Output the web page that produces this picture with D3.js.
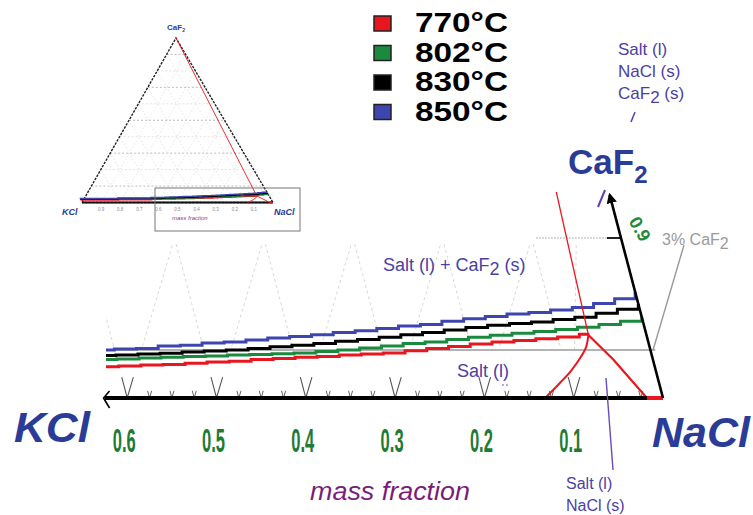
<!DOCTYPE html>
<html><head><meta charset="utf-8">
<script src="https://cdn.jsdelivr.net/npm/d3@7"></script>
<style>body{margin:0;background:#fff}svg{display:block}</style>
</head><body>
<svg id="c" width="753" height="515"></svg>
<script>
// ---------------- DATA ----------------
// KCl mass fraction at each step of the isotherms (1.0 .. 0.8 only seen in the overview triangle)
const kclSteps = [1.0,0.8,0.625,0.6,0.575,0.55,0.525,0.5,0.475,0.45,0.425,0.4,0.375,0.35,0.325,0.3,0.275,0.25,0.225,0.2,0.175,0.15,0.125,0.1,0.075,0.05,0.025,0.0];
// CaF2 solubility (mass %) along the isotherms
const caf2_850 = [2.4,2.7,3.0,3.06,3.1,3.25,3.3,3.44,3.5,3.62,3.75,3.85,3.95,4.1,4.2,4.35,4.5,4.6,4.8,4.95,5.1,5.25,5.35,5.5,5.65,5.9,6.2,6.63];
const caf2_830 = [2.1,2.4,2.65,2.69,2.75,2.8,2.88,2.94,3.0,3.1,3.2,3.3,3.4,3.55,3.65,3.8,3.95,4.1,4.25,4.4,4.55,4.65,4.75,4.9,5.05,5.3,5.55,5.88];
const caf2_802 = [1.9,2.1,2.4,2.44,2.5,2.55,2.6,2.63,2.68,2.72,2.76,2.81,2.9,3.0,3.12,3.25,3.4,3.5,3.65,3.8,3.92,4.05,4.15,4.28,4.42,4.6,4.8,5.06];
const kcl770   = [1.0,0.8,0.625,0.6,0.575,0.55,0.525,0.5,0.475,0.45,0.425,0.4,0.375,0.35,0.325,0.3,0.275,0.25,0.225,0.2,0.175,0.15,0.125,0.1,0.075,0.065];
const caf2_770 = [1.5,1.7,1.95,2.0,2.06,2.1,2.17,2.25,2.3,2.4,2.47,2.55,2.6,2.68,2.75,2.82,2.95,3.1,3.22,3.38,3.5,3.6,3.7,3.82,3.98,4.06];
// 770 °C NaCl liquidus boundaries
const liqApexKCl  = [0.0, 0.065];           const liqApexCaF2  = [100, 3.94];
const liqLeftKCl  = [0.065,0.071,0.080,0.095,0.111,0.132]; const liqLeftCaF2 = [3.94,3.2,2.56,1.7,0.94,0];
const liqRightKCl = [0.065,0.044,0.018,0.0]; const liqRightCaF2 = [3.94,2.38,0,0];
// axis
const axisTicks  = [0.6,0.5,0.4,0.3,0.2,0.1];
const tickLabels = ["0.6","0.5","0.4","0.3","0.2","0.1"];
const insetTicks = [0.9,0.8,0.7,0.6,0.5,0.4,0.3,0.2,0.1];
const legendLabels = ["770°C","802°C","830°C","850°C"];
const legendColors = ["#e8161e","#1b8a3e","#000000","#3d45b0"];

// ---------------- SCALES / PROJECTIONS ----------------
const svg = d3.select("#c");
const xK   = d3.scaleLinear().domain([0,1]).range([663,-230]);   // KCl fraction along base
const yC   = d3.scaleLinear().domain([0,1]).range([398,-1202]);  // CaF2 fraction (stretched)
const sC   = d3.scaleLinear().domain([0,1]).range([0,420]);      // ternary skew
const P  = (k,c) => [xK(k) - sC(c), yC(c)];
const xKi = d3.scaleLinear().domain([0,1]).range([273,82]);
const yCi = d3.scaleLinear().domain([0,1]).range([202.5,38]);
const sCi = d3.scaleLinear().domain([0,1]).range([0,97]);
const Pi = (k,c) => [xKi(k) - sCi(c), yCi(c)];

const series = [
  {k:kcl770,  c:caf2_770, col:legendColors[0]},
  {k:kclSteps,c:caf2_802, col:legendColors[1]},
  {k:kclSteps,c:caf2_830, col:legendColors[2]},
  {k:kclSteps,c:caf2_850, col:legendColors[3]}
].map(s => ({col:s.col, pts:s.k.map((k,i)=>[k, s.c[i]/100])}));
const zip = (a,b) => a.map((v,i)=>[v,b[i]/100]);

const defs = svg.append("defs");
defs.append("clipPath").attr("id","mainClip").append("rect").attr("x",106).attr("y",0).attr("width",600).attr("height",515);
defs.append("clipPath").attr("id","gridClip").append("rect").attr("x",106).attr("y",243).attr("width",560).attr("height",106);
defs.append("clipPath").attr("id","apexClip").append("rect").attr("x",400).attr("y",192).attr("width",300).attr("height",300);
defs.append("marker").attr("id","arr").attr("viewBox","0 0 10 10").attr("refX",8).attr("refY",5)
  .attr("markerWidth",4).attr("markerHeight",4).attr("orient","auto")
  .append("path").attr("d","M0,0L10,5L0,10z").attr("fill","#000");

// ---------------- INSET TERNARY ----------------
const gi = svg.append("g");
const lineI = d3.line().x(d=>Pi(d[0],d[1])[0]).y(d=>Pi(d[0],d[1])[1]);
for (let v=0.1; v<0.95; v+=0.1) {
  gi.append("path").attr("d",lineI([[v,0],[0,v]])).attr("stroke","#dadada").attr("stroke-dasharray","1.5,2").attr("fill","none").attr("stroke-width",0.7);
  gi.append("path").attr("d",lineI([[1-v,0],[1-v,v]])).attr("stroke","#dadada").attr("stroke-dasharray","1.5,2").attr("fill","none").attr("stroke-width",0.7);
  gi.append("path").attr("d",lineI([[1-v,v],[0,v]])).attr("stroke", (Math.round(v*10)%2? "#ababab":"#dadada")).attr("stroke-dasharray","2,2").attr("fill","none").attr("stroke-width",0.8);
}
gi.append("path").attr("d",lineI([[1,0],[0,1],[0,0],[1,0]])).attr("stroke","#222").attr("stroke-width",1.4).attr("stroke-dasharray","2.5,1.2").attr("fill","none");
gi.append("path").attr("d",lineI([[0,0],[1,0]])).attr("stroke","#111").attr("stroke-width",2).attr("fill","none");
gi.append("path").attr("d",lineI(zip(liqApexKCl,liqApexCaF2))).attr("stroke","#e8161e").attr("stroke-width",0.9).attr("fill","none");
gi.append("path").attr("d",lineI(zip(liqRightKCl,liqRightCaF2))).attr("stroke","#e8161e").attr("stroke-width",0.9).attr("fill","none");
gi.append("path").attr("d",lineI(zip(liqLeftKCl,liqLeftCaF2))).attr("stroke","#e8161e").attr("stroke-width",0.9).attr("fill","none");
series.forEach(s=>{
  gi.append("path").attr("d",lineI.curve(d3.curveStepAfter)(s.pts)).attr("stroke",s.col).attr("stroke-width",1.4).attr("fill","none");
});
lineI.curve(d3.curveLinear);
gi.selectAll("text.it").data(insetTicks).join("text").attr("class","it")
  .attr("x",d=>xKi(d)).attr("y",211).attr("text-anchor","middle")
  .attr("font-family","Liberation Sans, Arial, sans-serif").attr("font-size",4.5).attr("fill","#888").text(d=>d.toFixed(1));
gi.append("rect").attr("x",155).attr("y",188).attr("width",145).attr("height",43).attr("fill","none").attr("stroke","#777").attr("stroke-width",1);
gi.append("text").attr("x",172).attr("y",220).attr("font-family","Liberation Sans, Arial, sans-serif").attr("font-style","italic")
  .attr("font-size",6).attr("fill","#8a3a8a").text("mass fraction");
const tI = gi.append("text").attr("x",Pi(0,1)[0]).attr("y",30).attr("text-anchor","middle")
  .attr("font-family","Liberation Sans, Arial, sans-serif").attr("font-weight","bold").attr("font-size",8).attr("fill","#2a3b98");
tI.append("tspan").text("CaF"); tI.append("tspan").attr("font-size",5).attr("dy",1.5).text("2");
gi.append("text").attr("x",62).attr("y",215).attr("font-family","Liberation Sans, Arial, sans-serif").attr("font-weight","bold").attr("font-style","italic")
  .attr("font-size",9).attr("fill","#2a3b98").text("KCl");
gi.append("text").attr("x",274).attr("y",215).attr("font-family","Liberation Sans, Arial, sans-serif").attr("font-weight","bold").attr("font-style","italic")
  .attr("font-size",9).attr("fill","#2a3b98").text("NaCl");

// ---------------- MAIN (zoomed) TERNARY ----------------
const g = svg.append("g");
const line = d3.line().x(d=>P(d[0],d[1])[0]).y(d=>P(d[0],d[1])[1]);

// dashed ternary grid
const grid = g.append("g").attr("clip-path","url(#gridClip)");
d3.range(1,10).map(i=>i/10).forEach(v=>{
  grid.append("path").attr("d",line([[v,0],[v,Math.min(0.2,1-v)]])).attr("stroke","#d2d2d2").attr("stroke-dasharray","3,3").attr("stroke-width",0.9).attr("fill","none");
  grid.append("path").attr("d",line([[1-v,0],[Math.max(0,1-v-0.2),Math.min(0.2,v)]])).attr("stroke","#d2d2d2").attr("stroke-dasharray","3,3").attr("stroke-width",0.9).attr("fill","none");
});
// 0.1 CaF2 grid line (dotted) + tick
g.append("path").attr("d",line([[0.095,0.1],[0.0157,0.1]])).attr("stroke","#999").attr("stroke-dasharray","1.5,1.5").attr("stroke-width",1.2).attr("fill","none");
g.append("path").attr("d",line([[0.0157,0.1],[0,0.1]])).attr("stroke","#222").attr("stroke-width",2).attr("fill","none");

// 3 % CaF2 line
g.append("path").attr("clip-path","url(#mainClip)").attr("d",line([[0.63,0.03],[-0.0055,0.03]])).attr("stroke","#9a9a9a").attr("stroke-width",1.6).attr("fill","none");

// V ticks on base
const minor = d3.range(1,25).map(i=>i*0.025);
minor.forEach(v=>{
  const major = Math.abs(v*10-Math.round(v*10))<1e-6;
  const h = major? 0.013 : 0.0045;
  g.append("path").attr("d",line([[v,h],[v,0],[v-h,h]]))
   .attr("stroke","#555").attr("stroke-width",major?1.1:0.9).attr("fill","none");
});

// isotherms
const sl = d3.line().x(d=>P(d[0],d[1])[0]).y(d=>P(d[0],d[1])[1]).curve(d3.curveStepAfter);
const sg = g.append("g").attr("clip-path","url(#mainClip)");
series.forEach(s=>{
  sg.append("path").attr("d",sl(s.pts)).attr("stroke",s.col).attr("stroke-width",3).attr("fill","none");
});

// 770 liquidus
g.append("path").attr("clip-path","url(#apexClip)").attr("d",line(zip(liqApexKCl,liqApexCaF2))).attr("stroke","#e8161e").attr("stroke-width",1.3).attr("fill","none");
g.append("path").attr("d",line.curve(d3.curveCatmullRom)(zip(liqLeftKCl,liqLeftCaF2))).attr("stroke","#e8161e").attr("stroke-width",2).attr("fill","none");
line.curve(d3.curveLinear);
g.append("path").attr("d",line(zip(liqRightKCl,liqRightCaF2).slice(0,3))).attr("stroke","#e8161e").attr("stroke-width",2.2).attr("fill","none");

// base axis
g.append("path").attr("d",line([[0.625,0],[0,0]])).attr("stroke","#000").attr("stroke-width",4).attr("fill","none");
g.append("path").attr("d",line(zip(liqRightKCl,liqRightCaF2).slice(2))).attr("stroke","#e8161e").attr("stroke-width",4).attr("fill","none");
const a0 = P(0.6265,0);
g.append("path").attr("d",`M${a0[0]+6},${a0[1]-7}L${a0[0]},${a0[1]}L${a0[0]+6},${a0[1]+10}`).attr("stroke","#000").attr("stroke-width",1.6).attr("fill","none");
// right edge (NaCl-CaF2) with arrow
g.append("path").attr("d",line([[0,0],[0,0.127]])).attr("stroke","#000").attr("stroke-width",2.6).attr("fill","none").attr("marker-end","url(#arr)");

// tick labels
g.selectAll("text.tl").data(axisTicks).join("text").attr("class","tl")
  .attr("x",d=>xK(d)-3).attr("y",452).attr("text-anchor","middle")
  .attr("font-family","Liberation Sans Narrow, Liberation Sans, Arial, sans-serif").attr("font-weight","bold")
  .attr("font-size",33).attr("textLength",23).attr("lengthAdjust","spacingAndGlyphs")
  .attr("fill","#1f7a34").text((d,i)=>tickLabels[i]);
// 0.9 on right edge
const p09 = P(-0.024,0.1056);
g.append("text").attr("transform",`translate(${p09[0]},${p09[1]}) rotate(60)`).attr("text-anchor","middle").attr("dy","0.35em")
  .attr("font-family","Liberation Sans, Arial, sans-serif").attr("font-weight","bold").attr("font-size",18).attr("fill","#1f8a34").text("0.9");

// ---------------- TEXT ----------------
const F = "Liberation Sans, Arial, sans-serif";
const lab = "#4b3ea5";
const t1 = g.append("text").attr("x",383).attr("y",271).attr("font-family",F).attr("font-size",18).attr("fill",lab);
t1.append("tspan").text("Salt (l) + CaF"); t1.append("tspan").attr("dy",4).text("2"); t1.append("tspan").attr("dy",-4).text(" (s)");
g.append("text").attr("x",457).attr("y",377).attr("font-family",F).attr("font-size",18).attr("fill",lab).text("Salt (l)");
g.selectAll("circle.dd").data([0,1]).join("circle").attr("cx",d=>503+d*4).attr("cy",385).attr("r",0.9).attr("fill","#8a86c8");

const tr = g.append("text").attr("font-family",F).attr("font-size",17).attr("fill",lab);
tr.append("tspan").attr("x",618).attr("y",55).text("Salt (l)");
tr.append("tspan").attr("x",618).attr("y",77).text("NaCl (s)");
const tr3 = tr.append("tspan").attr("x",618).attr("y",99);
tr3.append("tspan").text("CaF"); tr3.append("tspan").attr("dy",4).text("2"); tr3.append("tspan").attr("dy",-4).text(" (s)");
g.append("path").attr("d","M635,112L631,122").attr("stroke","#5a3aa8").attr("stroke-width",1.5);

const tc = g.append("text").attr("x",568).attr("y",174).attr("font-family",F).attr("font-weight","bold").attr("font-size",35).attr("fill","#2a3b98");
tc.append("tspan").text("CaF"); tc.append("tspan").attr("font-size",24).attr("dy",9).text("2");
g.append("path").attr("d","M605,190L598,207").attr("stroke","#6a3ab0").attr("stroke-width",2);

const t3 = g.append("text").attr("x",662).attr("y",245).attr("font-family",F).attr("font-size",16).attr("fill","#9a9a9a");
t3.append("tspan").text("3% CaF"); t3.append("tspan").attr("dy",4).text("2");
const lp = P(-0.003,0.03);
g.append("path").attr("d",`M684,245L${lp[0]},${lp[1]}`).attr("stroke","#999").attr("stroke-width",1.4);

g.append("path").attr("d","M606,378L613,470").attr("stroke","#6a4ab5").attr("stroke-width",1.4);
const tb = g.append("text").attr("font-family",F).attr("font-size",16).attr("fill",lab);
tb.append("tspan").attr("x",566).attr("y",489).text("Salt (l)");
tb.append("tspan").attr("x",566).attr("y",511).text("NaCl (s)");

g.append("text").attr("x",14).attr("y",442).attr("font-family",F).attr("font-weight","bold").attr("font-style","italic")
  .attr("font-size",42).attr("textLength",76).attr("lengthAdjust","spacingAndGlyphs").attr("fill","#2a3b98").text("KCl");
g.append("text").attr("x",652).attr("y",447).attr("font-family",F).attr("font-weight","bold").attr("font-style","italic")
  .attr("font-size",42).attr("textLength",98).attr("lengthAdjust","spacingAndGlyphs").attr("fill","#2a3b98").text("NaCl");
g.append("text").attr("x",310).attr("y",500).attr("font-family",F).attr("font-style","italic")
  .attr("font-size",25).attr("textLength",160).attr("lengthAdjust","spacingAndGlyphs").attr("fill","#7a1d78").text("mass fraction");

// ---------------- LEGEND ----------------
const lg = svg.append("g");
legendLabels.forEach((l,i)=>{
  const y0 = 16 + i*29.5;
  lg.append("rect").attr("x",374).attr("y",y0).attr("width",17).attr("height",15)
    .attr("fill",legendColors[i]).attr("stroke","#222").attr("stroke-width",1.5);
  lg.append("text").attr("x",415).attr("y",y0+16).attr("font-family",F).attr("font-weight","bold")
    .attr("font-size",28).attr("textLength",93).attr("lengthAdjust","spacingAndGlyphs").attr("fill","#000").text(l);
});
</script>
</body></html>
